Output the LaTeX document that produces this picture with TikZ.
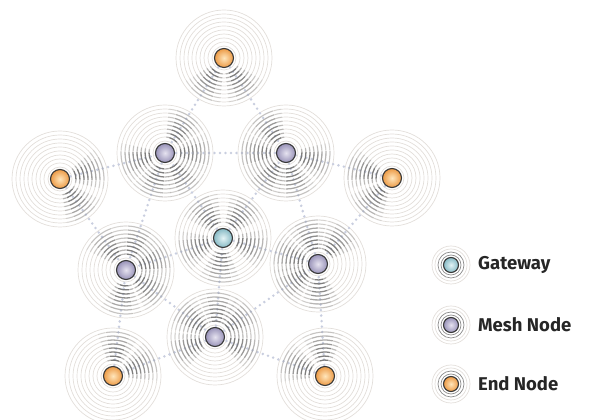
\documentclass[tikz,border=0pt]{standalone}
\usepackage{fontspec}
\setmainfont{Fira Sans}
\usetikzlibrary{calc}
\definecolor{linkc}{HTML}{C9CEDF}
\definecolor{ringc}{HTML}{E2DEDA}
\definecolor{gwin}{HTML}{E4F4F6}
\definecolor{gwout}{HTML}{86B9C4}
\definecolor{mein}{HTML}{E6E3F0}
\definecolor{meout}{HTML}{9892B8}
\definecolor{enin}{HTML}{FFE6BC}
\definecolor{enout}{HTML}{EC9A45}
\tikzset{
  link/.style={draw=linkc, line width=2.8pt, line cap=round, dash pattern=on 0pt off 5.5pt},
  ring/.style={draw=ringc, line width=0.7pt},
  wedgearc/.style={draw=black!58, line width=1.3pt},
  dotbase/.style={circle, draw=black!78, line width=1.1pt, minimum size=19pt, inner sep=0pt},
  gwdot/.style={dotbase, inner color=gwin, outer color=gwout},
  medot/.style={dotbase, inner color=mein, outer color=meout},
  endot/.style={dotbase, inner color=enin, outer color=enout},
  smalldot/.style={minimum size=15pt},
  legring/.style={draw=black!45, line width=0.7pt},
  legringlight/.style={draw=ringc, line width=0.7pt},
  legtext/.style={font=\bfseries\fontsize{18.5}{20}\selectfont, text=black!85, anchor=west, inner sep=0pt},
}
\newcommand\ringset[1]{\foreach \r in {12,16,...,48}{\draw[ring] (#1) circle[radius=\r pt];}}
\newcommand\wedgeto[2]{%
  \pgfmathanglebetweenpoints{\pgfpointanchor{#1}{center}}{\pgfpointanchor{#2}{center}}%
  \edef\wang{\pgfmathresult}%
  \foreach \r/\o in {16/0.85,20/0.85,24/0.8,28/0.72,32/0.62,36/0.5,40/0.38,44/0.26}{%
    \draw[wedgearc, opacity=\o] (#1) ++({\wang-16}:\r pt) arc[start angle=\wang-16, delta angle=32, radius=\r pt];
    \draw[wedgearc, opacity=0.45*\o] (#1) ++({\wang-27}:\r pt) arc[start angle=\wang-27, delta angle=10, radius=\r pt];
    \draw[wedgearc, opacity=0.45*\o] (#1) ++({\wang+17}:\r pt) arc[start angle=\wang+17, delta angle=10, radius=\r pt];}%
}
\begin{document}
\begin{tikzpicture}[x=1pt,y=1pt]
\useasboundingbox (0,0) rectangle (590,420);
% positions
\coordinate (te) at (224,362);
\coordinate (le) at (60,241);
\coordinate (re) at (392,242);
\coordinate (ble) at (113,44);
\coordinate (bre) at (325,44);
\coordinate (mtl) at (165,267);
\coordinate (mtr) at (286,267);
\coordinate (ml) at (126,150);
\coordinate (mr) at (318,156);
\coordinate (mb) at (215,83);
\coordinate (g) at (223,182);
% rings
\foreach \n in {te,le,re,ble,bre,mtl,mtr,ml,mr,mb,g}{\ringset{\n}}
% links
\foreach \a/\b in {te/mtl,te/mtr,le/mtl,le/ml,re/mtr,re/mr,ble/ml,ble/mb,bre/mb,bre/mr,
  mtl/mtr,mtl/ml,mtr/mr,ml/mb,mb/mr,g/mtl,g/mtr,g/ml,g/mr,g/mb}{
  \draw[link] (\a) -- (\b);}
% wedges
\foreach \a/\b in {te/mtl,te/mtr,le/mtl,le/ml,re/mtr,re/mr,ble/ml,ble/mb,bre/mb,bre/mr,
  mtl/mtr,mtl/ml,mtr/mr,ml/mb,mb/mr,g/mtl,g/mtr,g/ml,g/mr,g/mb}{
  \wedgeto{\a}{\b}\wedgeto{\b}{\a}}
% dots
\node[endot] (te-dot) at (te) {};
\node[endot] (le-dot) at (le) {};
\node[endot] (re-dot) at (re) {};
\node[endot] (ble-dot) at (ble) {};
\node[endot] (bre-dot) at (bre) {};
\node[medot] (mtl-dot) at (mtl) {};
\node[medot] (mtr-dot) at (mtr) {};
\node[medot] (ml-dot) at (ml) {};
\node[medot] (mr-dot) at (mr) {};
\node[medot] (mb-dot) at (mb) {};
\node[gwdot] (g-dot) at (g) {};
% legend
\foreach \y in {155,95,36}{
  \draw[legringlight] (451,\y) circle[radius=16pt];
  \draw[legringlight] (451,\y) circle[radius=19pt];
  \draw[legring] (451,\y) circle[radius=10pt];
  \draw[legring] (451,\y) circle[radius=13pt];
}
\node[gwdot,smalldot] (lg-dot) at (451,155) {};
\node[medot,smalldot] (lm-dot) at (451,95) {};
\node[endot,smalldot] (le2-dot) at (451,36) {};
\node[legtext] (lg-text) at (478,155) {Gateway};
\node[legtext] (lm-text) at (478,95) {Mesh Node};
\node[legtext] (le-text) at (478,36) {End Node};
\end{tikzpicture}
\end{document}
